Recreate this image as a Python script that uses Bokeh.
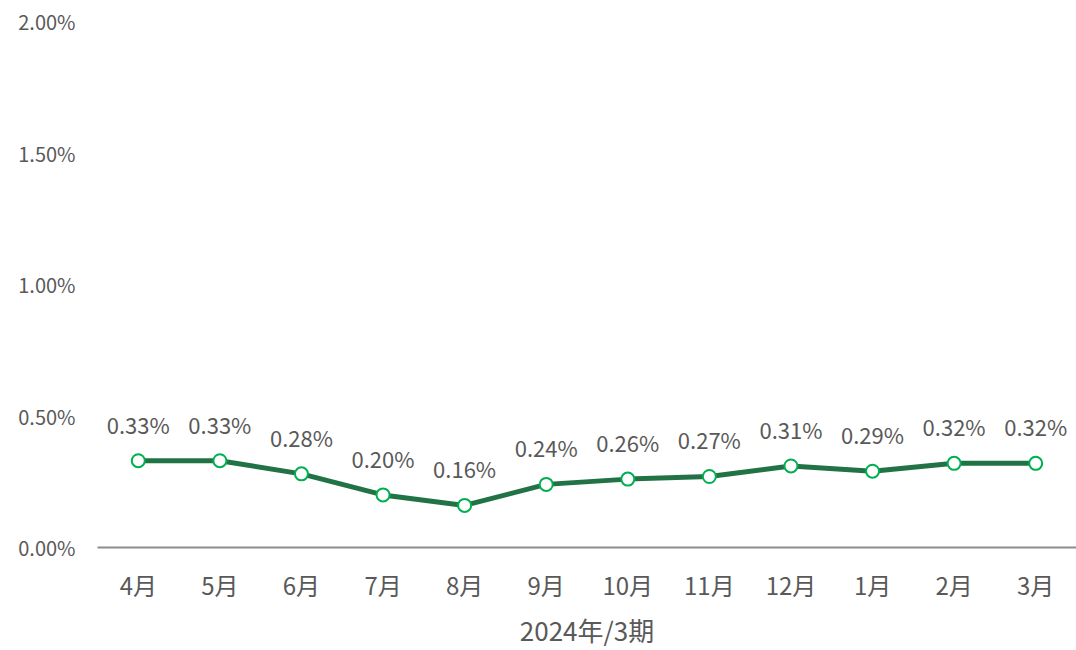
from bokeh.plotting import figure
from bokeh.models import ColumnDataSource, FixedTicker, PrintfTickFormatter, Range1d, FactorRange
from bokeh.core.properties import value
from bokeh.embed import file_html
from bokeh.resources import INLINE

months = ["4月", "5月", "6月", "7月", "8月", "9月", "10月", "11月", "12月", "1月", "2月", "3月"]
rates = [0.33, 0.33, 0.28, 0.20, 0.16, 0.24, 0.26, 0.27, 0.31, 0.29, 0.32, 0.32]
labels = ["0.33%", "0.33%", "0.28%", "0.20%", "0.16%", "0.24%", "0.26%", "0.27%", "0.31%", "0.29%", "0.32%", "0.32%"]
y_ticks = [0, 0.5, 1.0, 1.5, 2.0]
x_title = "2024年/3期"

FONT = "Noto Sans CJK SC"
TXT = "#595959"

src = ColumnDataSource(dict(x=months, y=rates, lab=labels))

p = figure(x_range=FactorRange(*months), y_range=Range1d(0, 2.0),
           width=1076, height=650, output_backend="svg", toolbar_location=None,
           min_border_left=97, min_border_right=0, min_border_top=21, min_border_bottom=100)
p.outline_line_color = None
p.grid.grid_line_color = None
p.x_range.range_padding = 0

p.line("x", "y", source=src, line_color="#217346", line_width=5)
p.scatter("x", "y", source=src, size=13, fill_color="white", line_color="#00B050", line_width=2)
p.text("x", "y", text="lab", source=src, text_align="center", text_baseline="middle",
       y_offset=-37, text_font=value(FONT), text_font_size="22px", text_color=TXT)

ya = p.yaxis[0]
ya.ticker = FixedTicker(ticks=y_ticks)
ya.formatter = PrintfTickFormatter(format="%.2f%%")
ya.axis_line_color = None
ya.major_tick_line_color = None
ya.minor_tick_line_color = None
ya.major_tick_out = 0
ya.minor_tick_out = 0
ya.major_label_standoff = 22
ya.major_label_text_font = FONT
ya.major_label_text_font_size = "20px"
ya.major_label_text_color = TXT

xa = p.xaxis[0]
xa.axis_line_color = "#8c8c8c"
xa.axis_line_width = 2
xa.major_tick_line_color = None
xa.minor_tick_line_color = None
xa.major_tick_out = 0
xa.major_label_standoff = 19
xa.major_label_text_font = FONT
xa.major_label_text_font_size = "24px"
xa.major_label_text_color = TXT
xa.axis_label = x_title
xa.axis_label_standoff = 6
xa.axis_label_text_font = FONT
xa.axis_label_text_font_size = "26px"
xa.axis_label_text_font_style = "normal"
xa.axis_label_text_color = TXT

open("out.html", "w").write(file_html(p, INLINE))
